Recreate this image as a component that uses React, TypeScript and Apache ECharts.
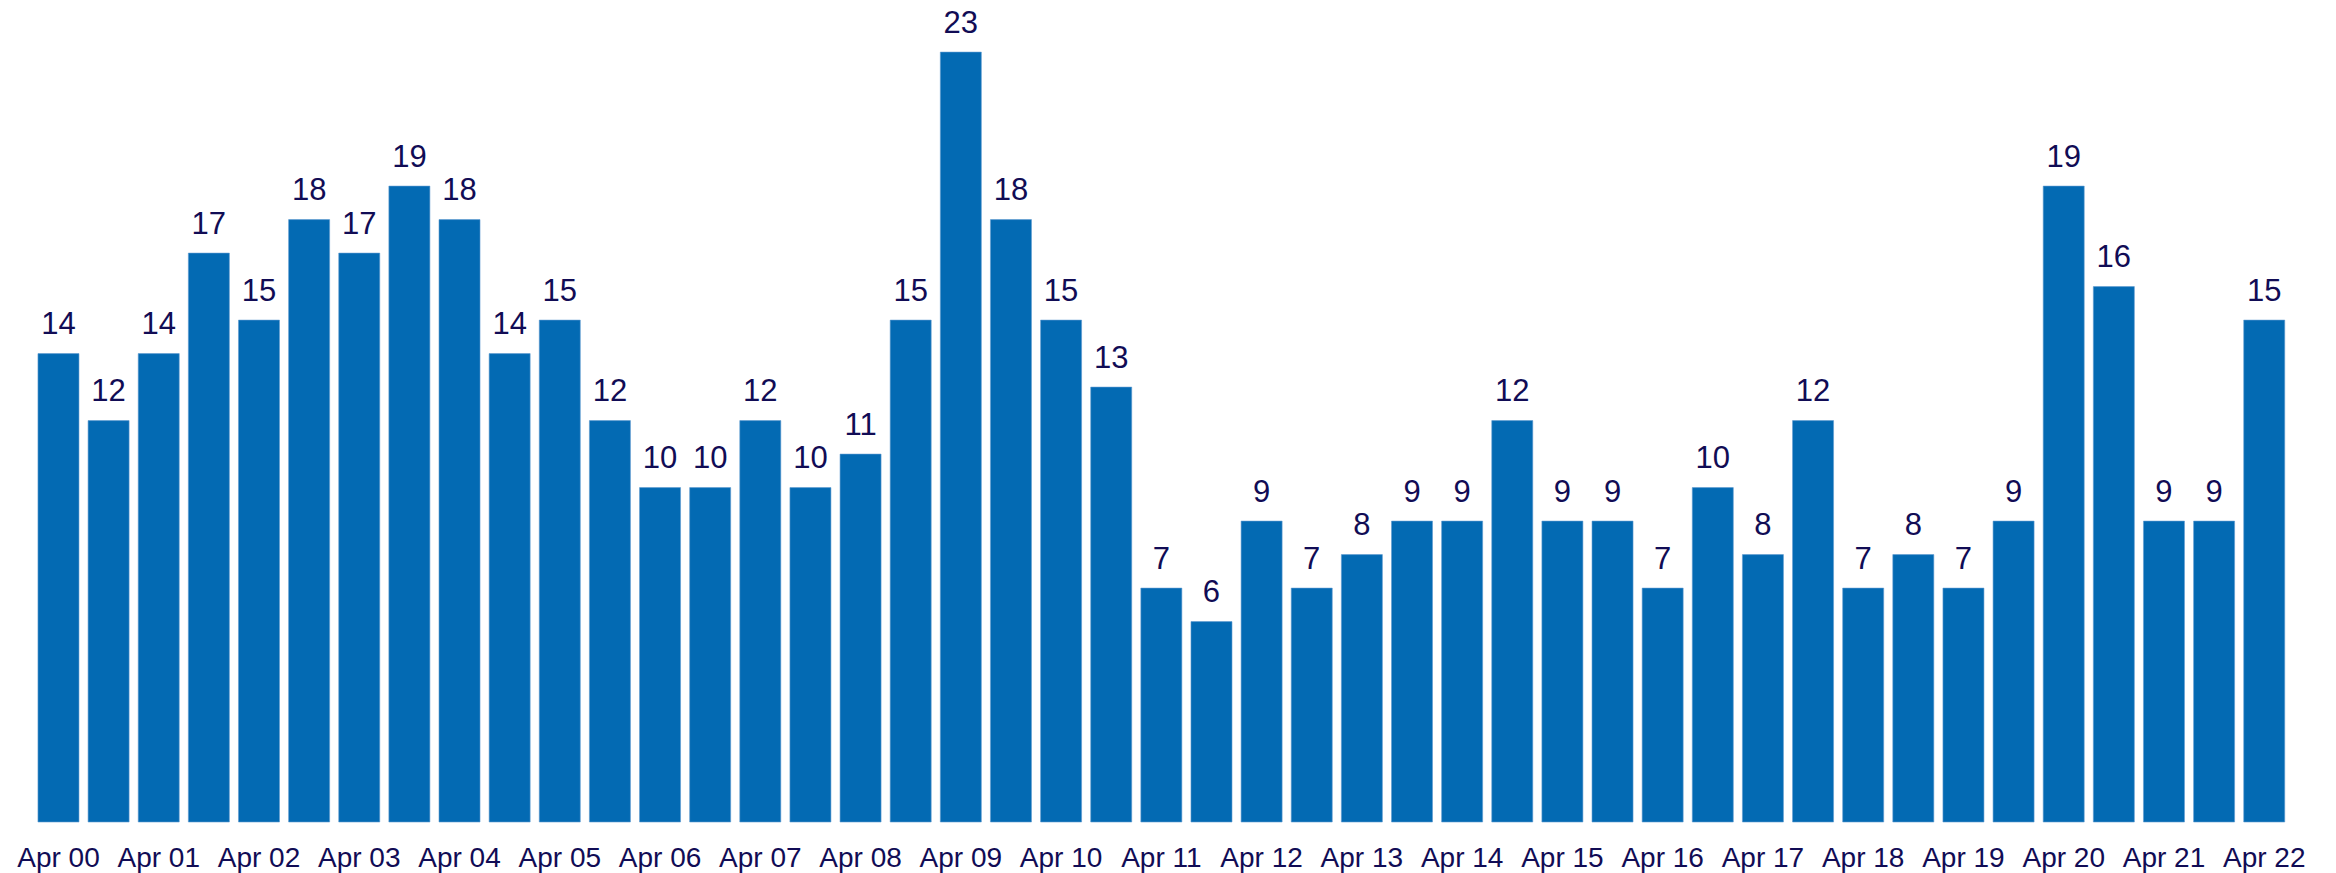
import React, { useEffect, useRef } from "react";
import * as echarts from "echarts";

const years = ["00","01","02","03","04","05","06","07","08","09","10","11","12","13","14","15","16","17","18","19","20","21","22"];
const categories: string[] = [];
years.forEach((y, i) => {
  categories.push("Apr " + y);
  if (i < years.length - 1) categories.push("Oct " + y);
});

const values = [
  14, 12, 14, 17, 15, 18, 17, 19, 18, 14, 15, 12, 10, 10, 12, 10, 11, 15, 23, 18, 15, 13, 7,
  6, 9, 7, 8, 9, 9, 12, 9, 9, 7, 10, 8, 12, 7, 8, 7, 9, 19, 16, 9, 9, 15,
];

const BAR = "#036ab3";
const TEXT = "#110c55";
const FONT = "'Liberation Sans', Arial, sans-serif";

export default function App() {
  const ref = useRef<HTMLDivElement>(null);
  useEffect(() => {
    if (!ref.current) return;
    const chart = echarts.init(ref.current, undefined, { renderer: "svg" });
    chart.setOption({
      animation: false,
      backgroundColor: "#ffffff",
      grid: { left: 33.4, right: 46.7, top: 51.8, bottom: 50.7, containLabel: false },
      xAxis: {
        type: "category",
        data: categories,
        axisLine: { show: false },
        axisTick: { show: false },
        axisLabel: {
          interval: 1,
          color: TEXT,
          fontFamily: FONT,
          fontSize: 28,
          margin: 21,
        },
      },
      yAxis: {
        type: "value",
        min: 0,
        max: 23,
        show: false,
        splitLine: { show: false },
      },
      series: [
        {
          type: "bar",
          data: values,
          barCategoryGap: "17%",
          itemStyle: { color: BAR, borderColor: "#5f9bd0", borderWidth: 0.6 },
          label: {
            show: true,
            position: "top",
            distance: 14,
            color: TEXT,
            fontFamily: FONT,
            fontSize: 31,
          },
        },
      ],
    });
    return () => chart.dispose();
  }, []);
  return (
    <div
      ref={ref}
      style={{ position: "absolute", left: 0, top: 0, width: 2336, height: 873 }}
    />
  );
}
